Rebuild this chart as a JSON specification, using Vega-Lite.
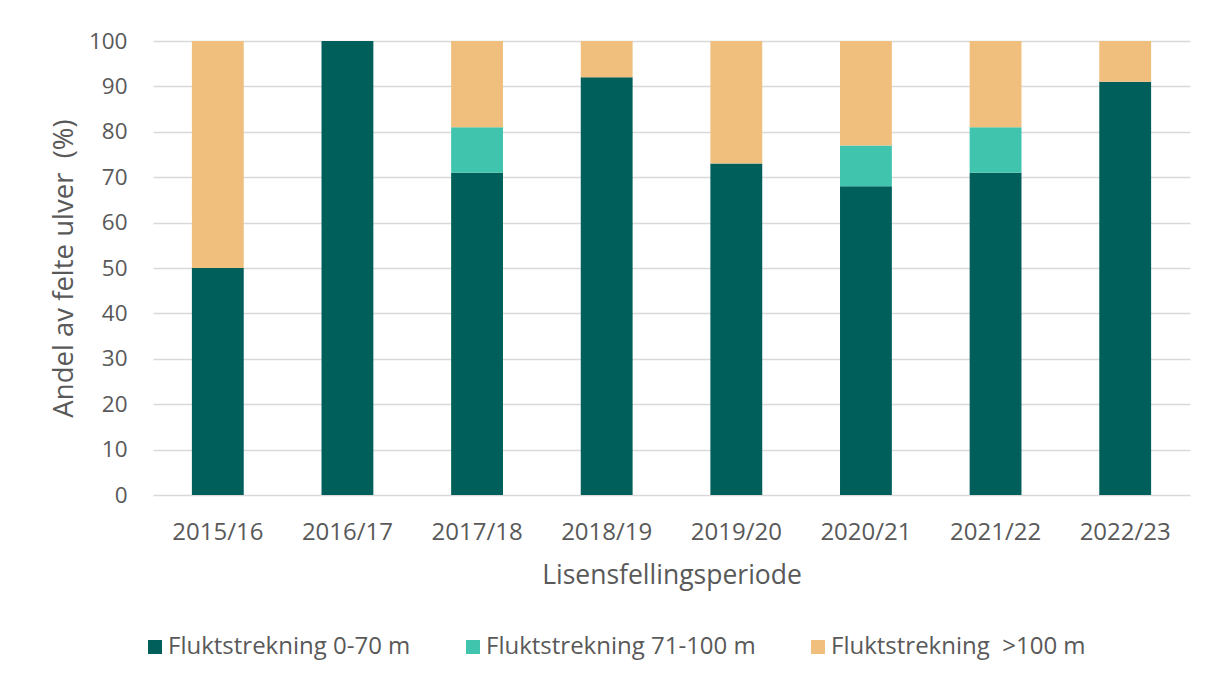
{
  "$schema": "https://vega.github.io/schema/vega-lite/v6.json",
  "width": 1037,
  "height": 454,
  "autosize": {"type": "none"},
  "padding": {"left": 153, "top": 41, "right": 15, "bottom": 184},
  "background": "white",
  "config": {
    "font": "Open Sans",
    "view": {"stroke": null},
    "axis": {
      "labelColor": "#595959",
      "titleColor": "#595959",
      "labelFont": "Open Sans",
      "titleFont": "Open Sans",
      "titleFontWeight": "normal",
      "gridColor": "#d9d9d9",
      "gridWidth": 1.5
    },
    "legend": {
      "labelFont": "Open Sans",
      "labelColor": "#595959"
    }
  },
  "data": {
    "values": [
      {"period": "2015/16", "category": "Fluktstrekning 0-70 m", "order": 1, "value": 50},
      {"period": "2015/16", "category": "Fluktstrekning 71-100 m", "order": 2, "value": 0},
      {"period": "2015/16", "category": "Fluktstrekning\u00a0 >100 m", "order": 3, "value": 50},
      {"period": "2016/17", "category": "Fluktstrekning 0-70 m", "order": 1, "value": 100},
      {"period": "2016/17", "category": "Fluktstrekning 71-100 m", "order": 2, "value": 0},
      {"period": "2016/17", "category": "Fluktstrekning\u00a0 >100 m", "order": 3, "value": 0},
      {"period": "2017/18", "category": "Fluktstrekning 0-70 m", "order": 1, "value": 71},
      {"period": "2017/18", "category": "Fluktstrekning 71-100 m", "order": 2, "value": 10},
      {"period": "2017/18", "category": "Fluktstrekning\u00a0 >100 m", "order": 3, "value": 19},
      {"period": "2018/19", "category": "Fluktstrekning 0-70 m", "order": 1, "value": 92},
      {"period": "2018/19", "category": "Fluktstrekning 71-100 m", "order": 2, "value": 0},
      {"period": "2018/19", "category": "Fluktstrekning\u00a0 >100 m", "order": 3, "value": 8},
      {"period": "2019/20", "category": "Fluktstrekning 0-70 m", "order": 1, "value": 73},
      {"period": "2019/20", "category": "Fluktstrekning 71-100 m", "order": 2, "value": 0},
      {"period": "2019/20", "category": "Fluktstrekning\u00a0 >100 m", "order": 3, "value": 27},
      {"period": "2020/21", "category": "Fluktstrekning 0-70 m", "order": 1, "value": 68},
      {"period": "2020/21", "category": "Fluktstrekning 71-100 m", "order": 2, "value": 9},
      {"period": "2020/21", "category": "Fluktstrekning\u00a0 >100 m", "order": 3, "value": 23},
      {"period": "2021/22", "category": "Fluktstrekning 0-70 m", "order": 1, "value": 71},
      {"period": "2021/22", "category": "Fluktstrekning 71-100 m", "order": 2, "value": 10},
      {"period": "2021/22", "category": "Fluktstrekning\u00a0 >100 m", "order": 3, "value": 19},
      {"period": "2022/23", "category": "Fluktstrekning 0-70 m", "order": 1, "value": 91},
      {"period": "2022/23", "category": "Fluktstrekning 71-100 m", "order": 2, "value": 0},
      {"period": "2022/23", "category": "Fluktstrekning\u00a0 >100 m", "order": 3, "value": 9}
    ]
  },
  "mark": {"type": "bar"},
  "encoding": {
    "x": {
      "field": "period",
      "type": "nominal",
      "scale": {"paddingInner": 0.6, "paddingOuter": 0.3},
      "axis": {
        "title": "Lisensfellingsperiode",
        "labelAngle": 0,
        "labelFontSize": 24,
        "titleFontSize": 26.5,
        "labelPadding": 25,
        "titlePadding": 18,
        "domain": false,
        "ticks": false
      }
    },
    "y": {
      "field": "value",
      "type": "quantitative",
      "stack": "zero",
      "scale": {"domain": [0, 100], "nice": false},
      "axis": {
        "title": "Andel av felte ulver\u00a0 (%)",
        "values": [0, 10, 20, 30, 40, 50, 60, 70, 80, 90, 100],
        "labelFontSize": 22.5,
        "titleFontSize": 27.5,
        "labelPadding": 26,
        "titlePadding": 10,
        "domain": false,
        "ticks": false
      }
    },
    "color": {
      "field": "category",
      "type": "nominal",
      "scale": {
        "domain": ["Fluktstrekning 0-70 m", "Fluktstrekning 71-100 m", "Fluktstrekning\u00a0 >100 m"],
        "range": ["#005F5A", "#40C4AE", "#F0BF7E"]
      },
      "legend": {
        "title": null,
        "orient": "none",
        "legendX": -10,
        "legendY": 594,
        "direction": "horizontal",
        "symbolType": "square",
        "symbolSize": 196,
        "symbolStrokeWidth": 0,
        "labelFontSize": 24,
        "labelLimit": 500,
        "labelOffset": 1,
        "columnPadding": 50
      }
    },
    "order": {"field": "order", "type": "quantitative"}
  }
}
